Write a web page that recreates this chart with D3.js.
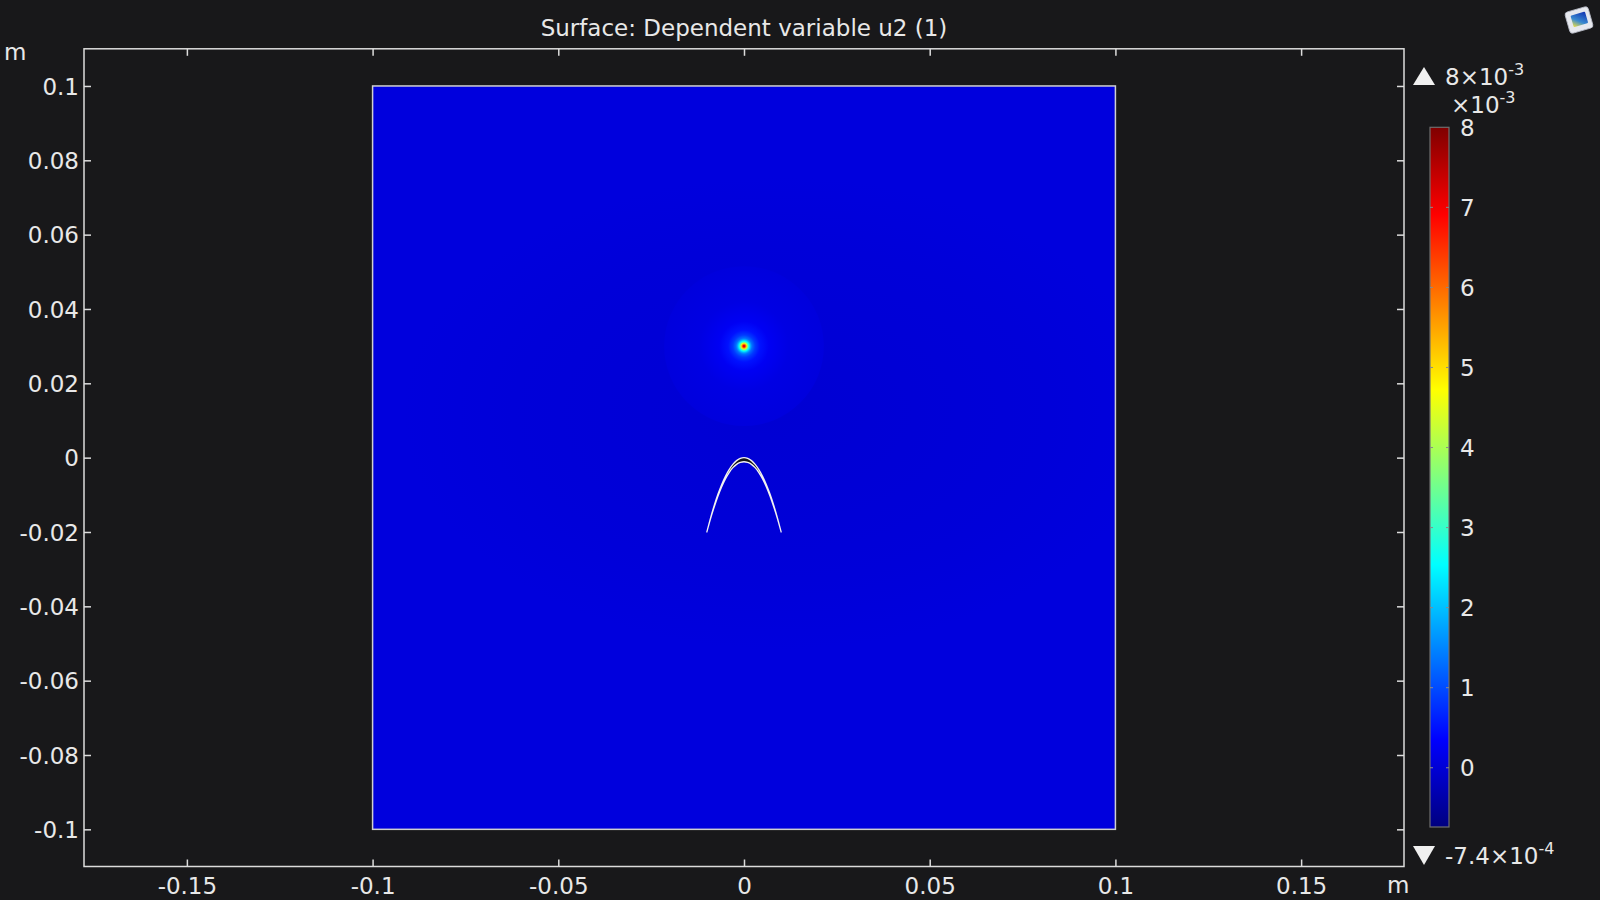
<!DOCTYPE html>
<html>
<head>
<meta charset="utf-8">
<script src="https://cdn.jsdelivr.net/npm/d3@7"></script>
<style>
  html, body { margin: 0; padding: 0; background: #18181a; }
  svg { display: block; }
  text { font-family: "DejaVu Sans", sans-serif; fill: #e8e8e8; }
</style>
</head>
<body>
<script>
// ---------------- data ----------------
const title = "Surface: Dependent variable u2 (1)";
const xTicks = [-0.15, -0.1, -0.05, 0, 0.05, 0.1, 0.15];
const yTicks = [-0.1, -0.08, -0.06, -0.04, -0.02, 0, 0.02, 0.04, 0.06, 0.08, 0.1];
const xDomain = [-0.1777, 0.1777];
const yDomain = [-0.11, 0.11];
const squareX = [-0.1, 0.1];
const squareY = [-0.1, 0.1];
// colour range (x1e-3)
const colorMin = -0.74, colorMax = 8;
const colorTicks = [0, 1, 2, 3, 4, 5, 6, 7, 8];
const jetPos = [0, 0.125, 0.375, 0.625, 0.875, 1];
const jetColors = ["#00007f", "#0000ff", "#00ffff", "#ffff00", "#ff0000", "#7f0000"];
const backgroundValue = 0.06;
// point source at (0, 0.03): radial profile (radius m, value x1e-3)
const sourceCenter = [0, 0.03];
const sourceR = [0, 0.00027, 0.00054, 0.00081, 0.00108, 0.00135, 0.00175, 0.00215, 0.0030, 0.0043, 0.0067, 0.012, 0.0215];
const sourceV = [7.4, 6.9, 5.6, 4.4, 3.3, 2.5, 1.8, 1.3, 0.85, 0.5, 0.25, 0.11, 0.06];
// faint darker scattering fan
const fanCenter = [0.01, 0.012];
const fanR = [0, 0.03, 0.06, 0.085];
const fanV = [-0.02, 0.0, 0.03, 0.06];
// parabolic reflector (outer / inner surfaces)
const reflX = [-0.010, -0.009, -0.008, -0.007, -0.006, -0.005, -0.004, -0.003, -0.002, -0.001, 0,
                0.001, 0.002, 0.003, 0.004, 0.005, 0.006, 0.007, 0.008, 0.009, 0.010];
const reflOuterY = [-0.0200, -0.0162, -0.0128, -0.0098, -0.0072, -0.0050, -0.0032, -0.0018, -0.0008, -0.0002, 0,
                    -0.0002, -0.0008, -0.0018, -0.0032, -0.0050, -0.0072, -0.0098, -0.0128, -0.0162, -0.0200];
const reflInnerY = [-0.0200, -0.0164, -0.0132, -0.0103, -0.0078, -0.0057, -0.0040, -0.0027, -0.0018, -0.0013, -0.0011,
                    -0.0013, -0.0018, -0.0027, -0.0040, -0.0057, -0.0078, -0.0103, -0.0132, -0.0164, -0.0200];

// ---------------- drawing ----------------
const W = 1600, H = 900, FS = 23;
const svg = d3.select("body").append("svg").attr("width", W).attr("height", H);
svg.append("rect").attr("width", W).attr("height", H).attr("fill", "#18181a");
const defs = svg.append("defs");

const x = d3.scaleLinear().domain(xDomain).range([84, 1404]);
const y = d3.scaleLinear().domain(yDomain).range([866.5, 48.8]);
const color = d3.scaleLinear()
  .domain(jetPos.map(t => colorMin + t * (colorMax - colorMin)))
  .range(jetColors).clamp(true);

// title
svg.append("text").attr("x", 744).attr("y", 36).attr("text-anchor", "middle")
  .attr("font-size", FS).text(title);

// field square
const sqX = x(squareX[0]), sqY = y(squareY[1]);
const sqW = x(squareX[1]) - x(squareX[0]), sqH = y(squareY[0]) - y(squareY[1]);
defs.append("clipPath").attr("id", "sqclip").append("rect")
  .attr("x", sqX).attr("y", sqY).attr("width", sqW).attr("height", sqH);
const sq = svg.append("g").attr("clip-path", "url(#sqclip)");
sq.append("rect").attr("x", sqX).attr("y", sqY).attr("width", sqW).attr("height", sqH)
  .attr("fill", color(backgroundValue));

// fan
const fanPx = x(fanR[fanR.length - 1]) - x(0);
const fg = defs.append("radialGradient").attr("id", "fan");
fanR.forEach((r, i) => fg.append("stop").attr("offset", r / fanR[fanR.length - 1]).attr("stop-color", color(fanV[i])));
sq.append("ellipse").attr("cx", x(fanCenter[0])).attr("cy", y(fanCenter[1]))
  .attr("rx", fanPx * 1.2).attr("ry", fanPx * 0.75).attr("fill", "url(#fan)");

// source
const srcPx = x(sourceR[sourceR.length - 1]) - x(0);
const sg = defs.append("radialGradient").attr("id", "src");
sourceR.forEach((r, i) => sg.append("stop").attr("offset", r / sourceR[sourceR.length - 1]).attr("stop-color", color(sourceV[i])));
sq.append("circle").attr("cx", x(sourceCenter[0])).attr("cy", y(sourceCenter[1]))
  .attr("r", srcPx).attr("fill", "url(#src)");

// square border
svg.append("rect").attr("x", sqX).attr("y", sqY).attr("width", sqW).attr("height", sqH)
  .attr("fill", "none").attr("stroke", "#d0d0d0").attr("stroke-width", 1.5);

// reflector
const outerPts = reflX.map((v, i) => [v, reflOuterY[i]]);
const innerPts = reflX.map((v, i) => [v, reflInnerY[i]]);
const lineC = d3.line().x(d => x(d[0])).y(d => y(d[1])).curve(d3.curveNatural);
const shellPath = lineC(outerPts) + "L" + lineC(innerPts.slice().reverse()).slice(1) + "Z";
svg.append("path").attr("d", shellPath).attr("fill", "#151515")
  .attr("stroke", "#f2f2f2").attr("stroke-width", 1.3).attr("stroke-linejoin", "round");

// frame
svg.append("rect").attr("x", 84).attr("y", 48.8).attr("width", 1320).attr("height", 817.7)
  .attr("fill", "none").attr("stroke", "#dcdcdc").attr("stroke-width", 1.5);

const fmt = d => String(+d.toFixed(2));
const axB = svg.append("g").attr("transform", `translate(0,${y(yDomain[0])})`)
  .call(d3.axisBottom(x).tickValues(xTicks).tickSize(-7).tickFormat(fmt));
axB.selectAll("text").attr("y", 27).attr("dy", "0");
const axT = svg.append("g").attr("transform", `translate(0,${y(yDomain[1])})`)
  .call(d3.axisTop(x).tickValues(xTicks).tickSize(-7).tickFormat(""));
const axL = svg.append("g").attr("transform", `translate(${x(xDomain[0])},0)`)
  .call(d3.axisLeft(y).tickValues(yTicks).tickSize(-7).tickPadding(5).tickFormat(fmt));
axL.selectAll("text").attr("dy", "0.36em");
const axR = svg.append("g").attr("transform", `translate(${x(xDomain[1])},0)`)
  .call(d3.axisRight(y).tickValues(yTicks).tickSize(-7).tickFormat(""));
[axB, axT, axL, axR].forEach(a => {
  a.select(".domain").remove();
  a.selectAll("line").attr("stroke", "#dcdcdc").attr("stroke-width", 1.5);
  a.selectAll("text").attr("font-size", FS).attr("fill", "#e8e8e8")
    .attr("font-family", "DejaVu Sans, sans-serif");
});

// unit labels
svg.append("text").attr("x", 4).attr("y", 60).attr("font-size", FS).text("m");
svg.append("text").attr("x", 1387).attr("y", 893).attr("font-size", FS).text("m");

// ---------------- colour bar ----------------
const cy = d3.scaleLinear().domain([colorMin, colorMax]).range([827, 127.3]);
const cbX = 1430, cbW = 19;
const cbg = defs.append("linearGradient").attr("id", "cb")
  .attr("x1", 0).attr("y1", 1).attr("x2", 0).attr("y2", 0);
jetPos.forEach((t, i) => cbg.append("stop").attr("offset", t).attr("stop-color", jetColors[i]));
svg.append("rect").attr("x", cbX).attr("y", cy(colorMax)).attr("width", cbW)
  .attr("height", cy(colorMin) - cy(colorMax)).attr("fill", "url(#cb)")
  .attr("stroke", "#6e6e6e").attr("stroke-width", 1.2);
const cbT = svg.append("g");
colorTicks.filter(v => v < colorMax).forEach(v => {
  cbT.append("line").attr("x1", cbX).attr("x2", cbX + 3).attr("y1", cy(v)).attr("y2", cy(v))
    .attr("stroke", "#8a8a8a").attr("stroke-width", 1);
  cbT.append("line").attr("x1", cbX + cbW - 3).attr("x2", cbX + cbW).attr("y1", cy(v)).attr("y2", cy(v))
    .attr("stroke", "#8a8a8a").attr("stroke-width", 1);
});
colorTicks.forEach(v => {
  svg.append("text").attr("x", 1460).attr("y", cy(v)).attr("dy", "0.36em")
    .attr("font-size", FS).text(String(v));
});
// exponent header
const hdr = svg.append("text").attr("x", 1451).attr("y", 112.5).attr("font-size", FS);
hdr.append("tspan").text("×10");
hdr.append("tspan").attr("font-size", 16).attr("dy", -10).text("-3");

// max/min markers
svg.append("path").attr("d", "M1413,85L1435,85L1424,67Z").attr("fill", "#f0f0f0");
const mx = svg.append("text").attr("x", 1445).attr("y", 85).attr("font-size", FS);
mx.append("tspan").text("8×10");
mx.append("tspan").attr("font-size", 16).attr("dy", -10).text("-3");
svg.append("path").attr("d", "M1413,846L1435,846L1424,865Z").attr("fill", "#f0f0f0");
const mn = svg.append("text").attr("x", 1445).attr("y", 864).attr("font-size", FS);
mn.append("tspan").text("-7.4×10");
mn.append("tspan").attr("font-size", 16).attr("dy", -10).text("-4");

// logo icon
const lg = svg.append("g").attr("transform", "translate(1579,20) rotate(-16)");
const lgGrad = defs.append("linearGradient").attr("id", "lgg")
  .attr("x1", 0).attr("y1", 1).attr("x2", 1).attr("y2", 0);
lgGrad.append("stop").attr("offset", 0).attr("stop-color", "#f0e040");
lgGrad.append("stop").attr("offset", 0.4).attr("stop-color", "#3a8ad0");
lgGrad.append("stop").attr("offset", 1).attr("stop-color", "#1030b0");
lg.append("rect").attr("x", -12).attr("y", -11).attr("width", 24).attr("height", 22).attr("rx", 3)
  .attr("fill", "#e6e8ee").attr("stroke", "#b8bcc8").attr("stroke-width", 0.8);
lg.append("rect").attr("x", -7).attr("y", -6.5).attr("width", 15).attr("height", 12).attr("rx", 1)
  .attr("fill", "url(#lgg)");
</script>
</body>
</html>
